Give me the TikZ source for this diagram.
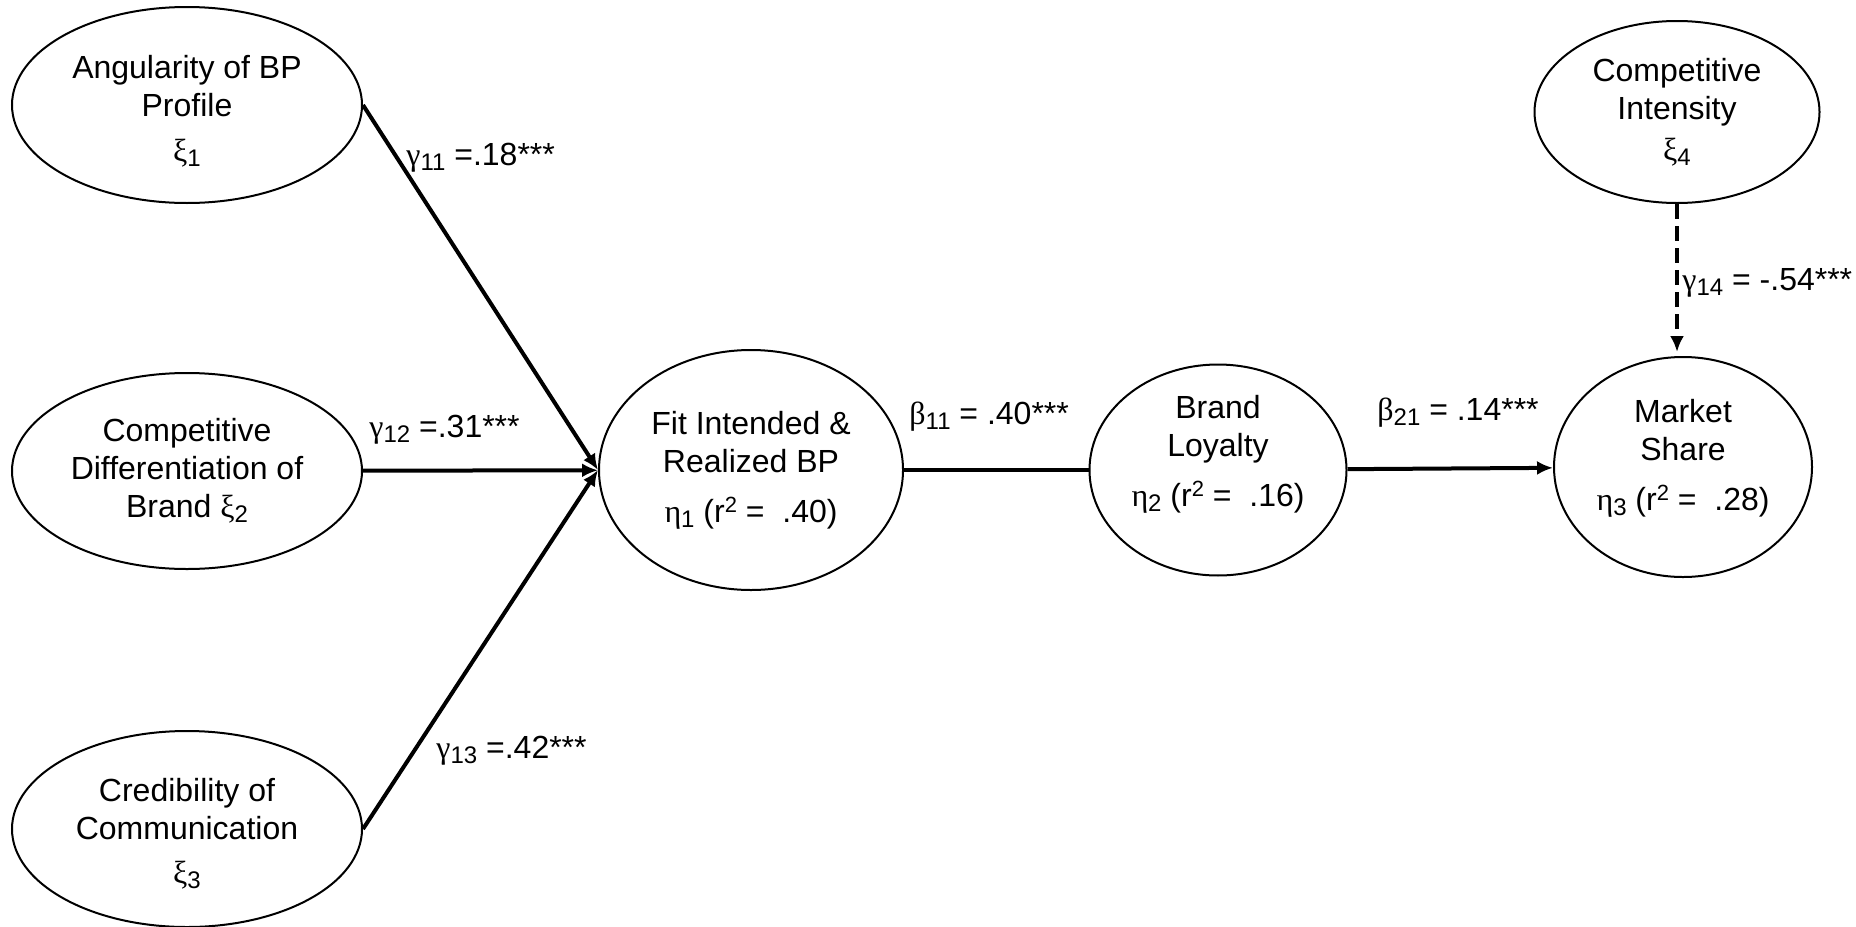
\documentclass[tikz,border=0pt]{standalone}
\usepackage{fontspec}
\setmainfont{Liberation Sans}
\newfontfamily\grk{Liberation Serif}
\usetikzlibrary{positioning,shapes.geometric,arrows.meta}
\newcommand{\lsub}[1]{\raisebox{-2.5pt}{\fontsize{12}{12}\selectfont #1}}
\newcommand{\lsup}[1]{\raisebox{5pt}{\fontsize{11}{11}\selectfont #1}}

\begin{document}
\begin{tikzpicture}[x=0.5pt,y=-0.5pt,
	latent/.style={ellipse,draw,line width=1pt,inner sep=0pt,align=center,
	font=\fontsize{16}{19}\selectfont},
	coef/.style={anchor=base west,inner sep=0pt,font=\fontsize{16}{19}\selectfont},
	causal/.style={line width=2pt,-{Latex[length=8pt,width=7pt]}}]
	\useasboundingbox (0,0) rectangle (1856,926);
	% exogenous constructs
	\node [latent,minimum width=175pt,minimum height=98pt] (xi1) at (187,105)
	{\rule{0pt}{17.5pt}Angularity of BP\\Profile\\[3.5pt]{\grk ξ}\lsub{1}};
	\node [latent,minimum width=175pt,minimum height=98pt] (xi2) at (187,471)
	{Competitive\\Differentiation of\\Brand {\grk ξ}\lsub{2}};
	\node [latent,minimum width=175pt,minimum height=98pt] (xi3) at (187,829)
	{\rule{0pt}{16.5pt}Credibility of\\Communication\\[3pt]{\grk ξ}\lsub{3}};
	\node [latent,minimum width=142.5pt,minimum height=91pt] (xi4) at (1677,112)
	{Competitive\\Intensity\\[1.5pt]{\grk ξ}\lsub{4}};
	% endogenous constructs
	\node [latent,minimum width=152pt,minimum height=120pt] (eta1) at (751,470)
	{Fit Intended \&\\Realized BP\\[6pt]{\grk η}\lsub{1} (r\lsup{2} = ~.40)};
	\node [latent,minimum width=128.5pt,minimum height=102pt] (eta2) at (1218,470)
	{Brand\\Loyalty\\[6pt]{\grk η}\lsub{2} (r\lsup{2} = ~.16)\rule[-19pt]{0pt}{19pt}};
	\node [latent,minimum width=129pt,minimum height=110pt] (eta3) at (1683,467)
	{Market\\Share\\[6pt]{\grk η}\lsub{3} (r\lsup{2} = ~.28)\rule[-12pt]{0pt}{12pt}};
	% paths
	\draw [causal] (xi1.east) -- (eta1.west);
	\draw [causal] (xi2) -- (eta1);
	\draw [causal] (xi3.east) -- (eta1.west);
	\draw [line width=2pt] (eta1) -- (eta2);
	\draw [causal] (eta2) -- (eta3);
	\draw [causal,dash pattern=on 7.5pt off 3.5pt] (xi4.south) -- ([yshift=2pt]xi4.south |- eta3.north);
	% coefficients
	\node [coef] (g11) at (406,165) {{\grk γ}\lsub{11} =.18***};
	\node [coef] (g12) at (369,437) {{\grk γ}\lsub{12} =.31***};
	\node [coef] (g13) at (436,758) {{\grk γ}\lsub{13} =.42***};
	\node [coef] (b11) at (909,424) {{\grk β}\lsub{11} = .40***};
	\node [coef] (b21) at (1377,420) {{\grk β}\lsub{21} = .14***};
	\node [coef] (g14) at (1682,290) {{\grk γ}\lsub{14} = -.54***};
\end{tikzpicture}
\end{document}
